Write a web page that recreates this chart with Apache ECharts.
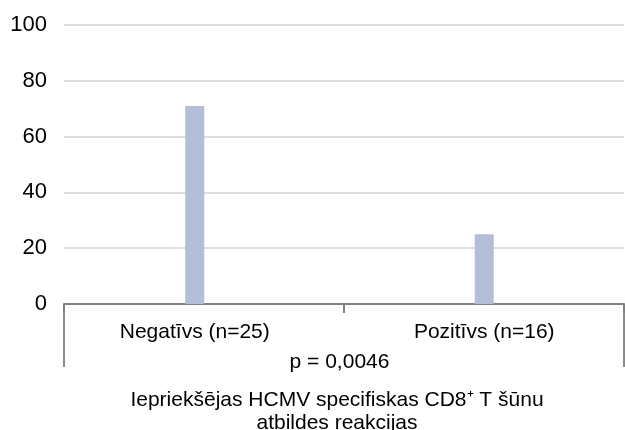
<!DOCTYPE html>
<html>
<head>
<meta charset="utf-8">
<script src="https://cdn.jsdelivr.net/npm/echarts@6/dist/echarts.min.js"></script>
<style>
  html, body { margin: 0; padding: 0; background: #ffffff; }
  #chart { width: 625px; height: 430px; }
</style>
</head>
<body>
<div id="chart"></div>
<script>
// Response groups and share of patients (%)
const categories = ['Negatīvs (n=25)', 'Pozitīvs (n=16)'];
const values = [71, 25];
const yTicks = [0, 20, 40, 60, 80, 100];
const pValueLabel = 'p = 0,0046';
const groupTitle = ['Iepriekšējas HCMV specifiskas CD8⁺ T šūnu', 'atbildes reakcijas'];

const FONT = '"Liberation Sans", Arial, sans-serif';
const AXIS_GREY = '#808080';

const chart = echarts.init(document.getElementById('chart'), null, { renderer: 'canvas' });

chart.setOption({
  animation: false,
  backgroundColor: '#ffffff',
  grid: [
    // frame: grid lines, value axis, outer group brackets
    { left: 64, right: 1, top: 25, bottom: 126, outerBoundsMode: 'none', containLabel: false },
    // bars and inner category labels
    { left: 50, right: -4, top: 25, bottom: 126, outerBoundsMode: 'none', containLabel: false }
  ],
  xAxis: [
    {
      gridIndex: 0,
      type: 'category',
      position: 'bottom',
      data: [groupTitle.join('\n')],
      axisLine: { show: true, lineStyle: { color: AXIS_GREY, width: 2 } },
      axisTick: { show: true, length: 63, lineStyle: { color: '#8a8a8a', width: 2 } },
      axisLabel: {
        show: true, margin: 85, color: '#000', fontFamily: FONT, fontSize: 21, lineHeight: 23,
        padding: [0, 14, 0, 0]
      }
    },
    {
      gridIndex: 0,
      type: 'category',
      position: 'bottom',
      data: categories,
      axisLine: { show: false },
      axisTick: { show: true, length: 9, lineStyle: { color: AXIS_GREY, width: 2 } },
      axisLabel: { show: false }
    },
    {
      gridIndex: 1,
      type: 'category',
      position: 'bottom',
      data: categories,
      axisLine: { show: false },
      axisTick: { show: false },
      axisLabel: { color: '#000', fontFamily: FONT, fontSize: 21, margin: 18 },
      name: pValueLabel,
      nameLocation: 'middle',
      nameGap: 48,
      nameTextStyle: { color: '#000', fontFamily: FONT, fontSize: 21 }
    }
  ],
  yAxis: [
    {
      gridIndex: 0,
      type: 'value',
      min: yTicks[0],
      max: yTicks[yTicks.length - 1],
      interval: yTicks[1] - yTicks[0],
      axisLine: { show: false },
      axisTick: { show: false },
      axisLabel: { color: '#000', fontFamily: FONT, fontSize: 22, margin: 17 },
      splitLine: { show: true, lineStyle: { color: '#dedede', width: 2 } }
    },
    {
      gridIndex: 1,
      type: 'value',
      min: yTicks[0],
      max: yTicks[yTicks.length - 1],
      interval: yTicks[1] - yTicks[0],
      show: false,
      splitLine: { show: false }
    }
  ],
  series: [
    {
      type: 'bar',
      xAxisIndex: 2,
      yAxisIndex: 1,
      data: values,
      barWidth: 19,
      itemStyle: { color: '#b3bfd8' }
    }
  ]
});
</script>
</body>
</html>
